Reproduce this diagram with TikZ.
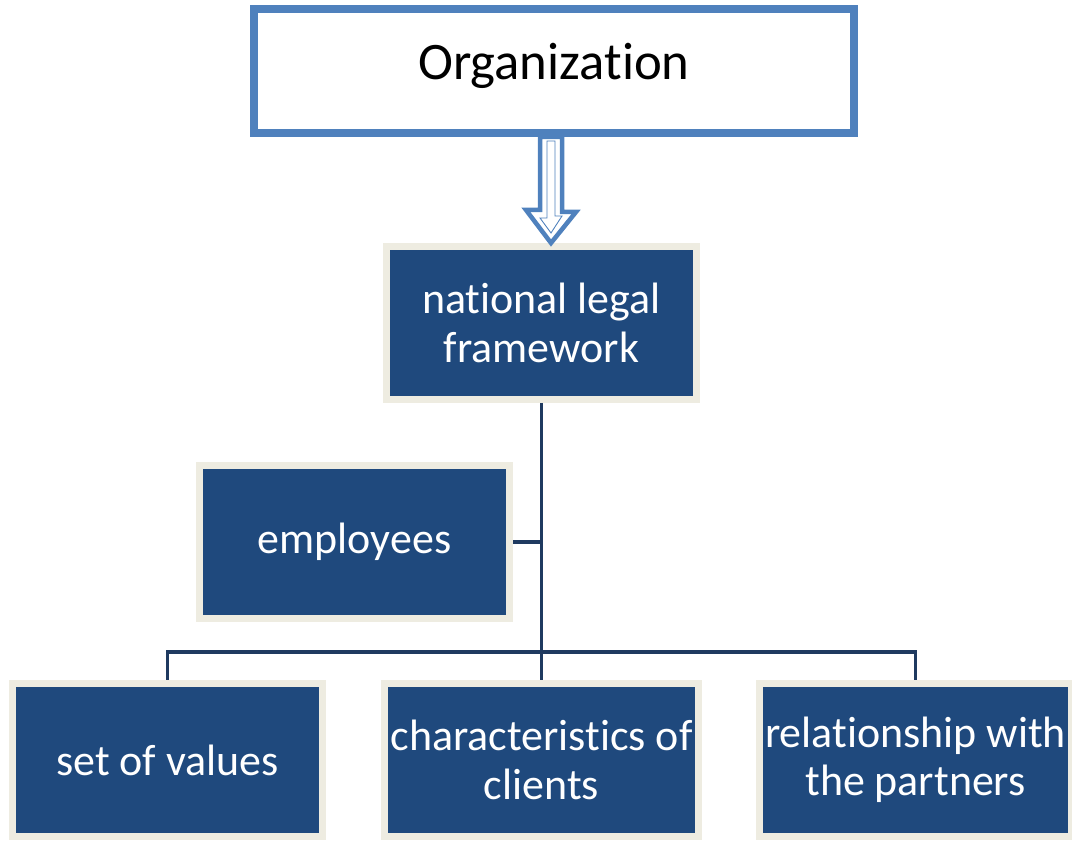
\documentclass[tikz,border=0pt]{standalone}
\usepackage{fontspec}
\setmainfont{Carlito}[Ligatures={NoCommon,NoContextual,NoRare}, Contextuals=NoAlternate]
\usetikzlibrary{positioning,shadows}

\definecolor{orgblue}{HTML}{4F81BD}
\definecolor{boxnavy}{HTML}{1F497D}
\definecolor{boxrim}{HTML}{EEECE1}
\definecolor{linknavy}{HTML}{1F3A60}

\begin{document}
\begin{tikzpicture}[
  every node/.style={font=\fontsize{25}{27.5}\selectfont},
  topbox/.style={rectangle, draw=orgblue, fill=white, line width=0.12cm, minimum width=12.04cm, minimum height=2.52cm, align=center, text depth=0.4cm, font=\fontsize{30}{34}\selectfont},
  unit/.style={rectangle, draw=boxrim, fill=boxnavy, line width=0.14cm, minimum width=6.2cm, minimum height=3.06cm, align=center, text=white,
    drop shadow={opacity=0.3, shadow xshift=0.04cm, shadow yshift=-0.05cm}},
  link/.style={draw=linknavy, line width=0.07cm},
  hollow/.style={draw=orgblue, fill=white, line width=0.09cm, line join=miter}
]
  \useasboundingbox (0,0) rectangle (21.44,16.84);

  \node[topbox] (org) at (11.08,15.42) {Organization};
  \draw[orgblue, line width=0.6pt] ([shift={(0.14,-0.14)}]org.north west) rectangle ([shift={(-0.14,0.14)}]org.south east);

  \node[unit] (frame) at (10.83,10.38) {national legal\\framework};
  \node[unit] (staff) at (7.09,6.00) {employees};
  \node[unit] (values) at (3.35,1.64) {set of values};
  \node[unit] (clients) at (10.83,1.64) {characteristics of\\clients};
  \node[unit] (partners) at (18.31,1.64) {relationship with\\the partners};

  % hollow block arrow between the top box and the framework
  \coordinate (a1) at ([xshift=-0.06cm]org.south);
  \coordinate (a2) at (a1 |- frame.north);
  \draw[hollow] (a1) ++(-0.22,0) -- ++(0.44,0) -- ++(0,-1.5) -- ++(0.28,0) -- (a2) -- ++(-0.5,0.66) -- ++(0.28,0) -- cycle;
  \draw[orgblue, line width=0.5pt] ([yshift=-0.08cm]a1) ++(-0.08,0) -- ++(0.16,0) -- ++(0,-1.5) -- ++(0.14,0)
    -- ([yshift=0.2cm]a2) -- ++(-0.22,0.3) -- ++(0.14,0) -- cycle;

  \draw[link] (frame.south) -- (clients.north);
  \draw[link] (staff.east) -- (staff.east -| frame.south);
  \draw[link] (values.north) -- ++(0,0.56) -| (partners.north);
\end{tikzpicture}
\end{document}
